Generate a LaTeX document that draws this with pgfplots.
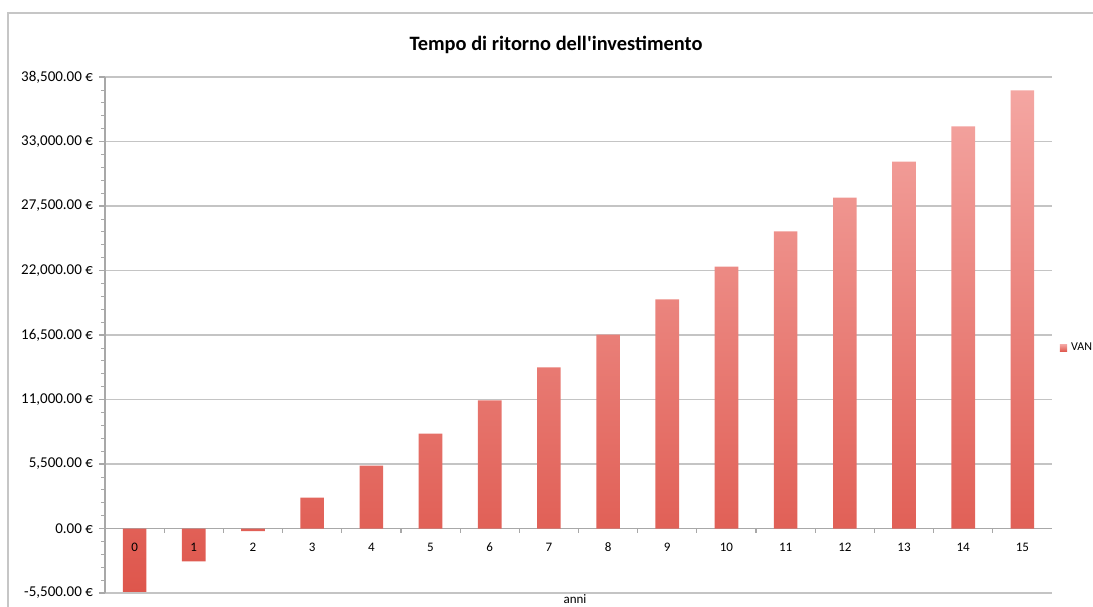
\documentclass[border=0pt]{standalone}
\usepackage{pgfplots}
\pgfplotsset{compat=1.18}
\usepackage{fontspec}
\setmainfont{Carlito}
\definecolor{bartop}{HTML}{F4A6A2}
\definecolor{barbot}{HTML}{DE564C}
\definecolor{gridc}{HTML}{C4C4C4}
\definecolor{axc}{HTML}{A8A8A8}
\begin{document}
\begin{tikzpicture}[x=1pt,y=1pt]
\useasboundingbox (0,0) rectangle (546.5,303);
\draw[gray!45, line width=0.8pt] (4,-2) -- (4,296.5) -- (548,296.5);
\begin{axis}[
  at={(52.5pt,6.5pt)}, anchor=south west,
  scale only axis, width=473.5pt, height=258pt,
  xmin=-0.5, xmax=15.5, ymin=-5500, ymax=38500,
  ybar, bar width=0.4,
  axis x line*=middle, axis y line*=left,
  xtick={0,...,15},
  xticklabels={},
  major x tick style={draw=none},
  minor xtick={0.5,1.5,...,14.5},
  minor x tick style={axc, line width=0.6pt},
  minor tick length=2pt,
  tick align=outside,
  x axis line style={axc, line width=0.9pt},
  y axis line style={axc, line width=0.6pt},
  scaled y ticks=false,
  ytick={-5500,0,5500,11000,16500,22000,27500,33000,38500},
  yticklabels={{-5,500.00 €},{0.00 €},{5,500.00 €},{11,000.00 €},{16,500.00 €},{22,000.00 €},{27,500.00 €},{33,000.00 €},{38,500.00 €}},
  minor y tick num=4,
  minor y tick style={axc, line width=0.4pt},
  major y tick style={axc, line width=0.6pt},
  major tick length=3pt,
  ymajorgrids, grid style={gridc, line width=0.8pt},
  yticklabel style={font=\fontsize{7.5}{8.5}\selectfont, xshift=0.5pt},
  clip mode=individual,
  legend style={at={(1.008,0.475)}, anchor=west, draw=none, fill=none,
    font=\fontsize{6}{7}\selectfont, inner sep=0pt},
  legend image code/.code={\fill[barbot!80!bartop] (0pt,-1.8pt) rectangle (3.6pt,1.8pt);},
]
\addplot[draw=none, top color=bartop, bottom color=barbot] coordinates {
(0,-5400) (1,-2800) (2,-230) (3,2640) (4,5370) (5,8100) (6,10920) (7,13730)
(8,16540) (9,19530) (10,22340) (11,25330) (12,28220) (13,31290) (14,34280) (15,37350)};
\addlegendentry{VAN}
\pgfplotsinvokeforeach{0,...,15}{
  \node[font=\fontsize{6.5}{7.5}\selectfont, anchor=center, inner sep=0pt, yshift=-9.5pt] at (axis cs:#1,0) {#1};
}
\end{axis}
\node[font=\bfseries\fontsize{10.2}{12}\selectfont] at (278,280.5) {Tempo di ritorno dell\textquotesingle investimento};
\node[font=\fontsize{6.5}{7.5}\selectfont, anchor=base, inner sep=0pt] at (287.5,1.2) {anni};
\end{tikzpicture}
\end{document}
